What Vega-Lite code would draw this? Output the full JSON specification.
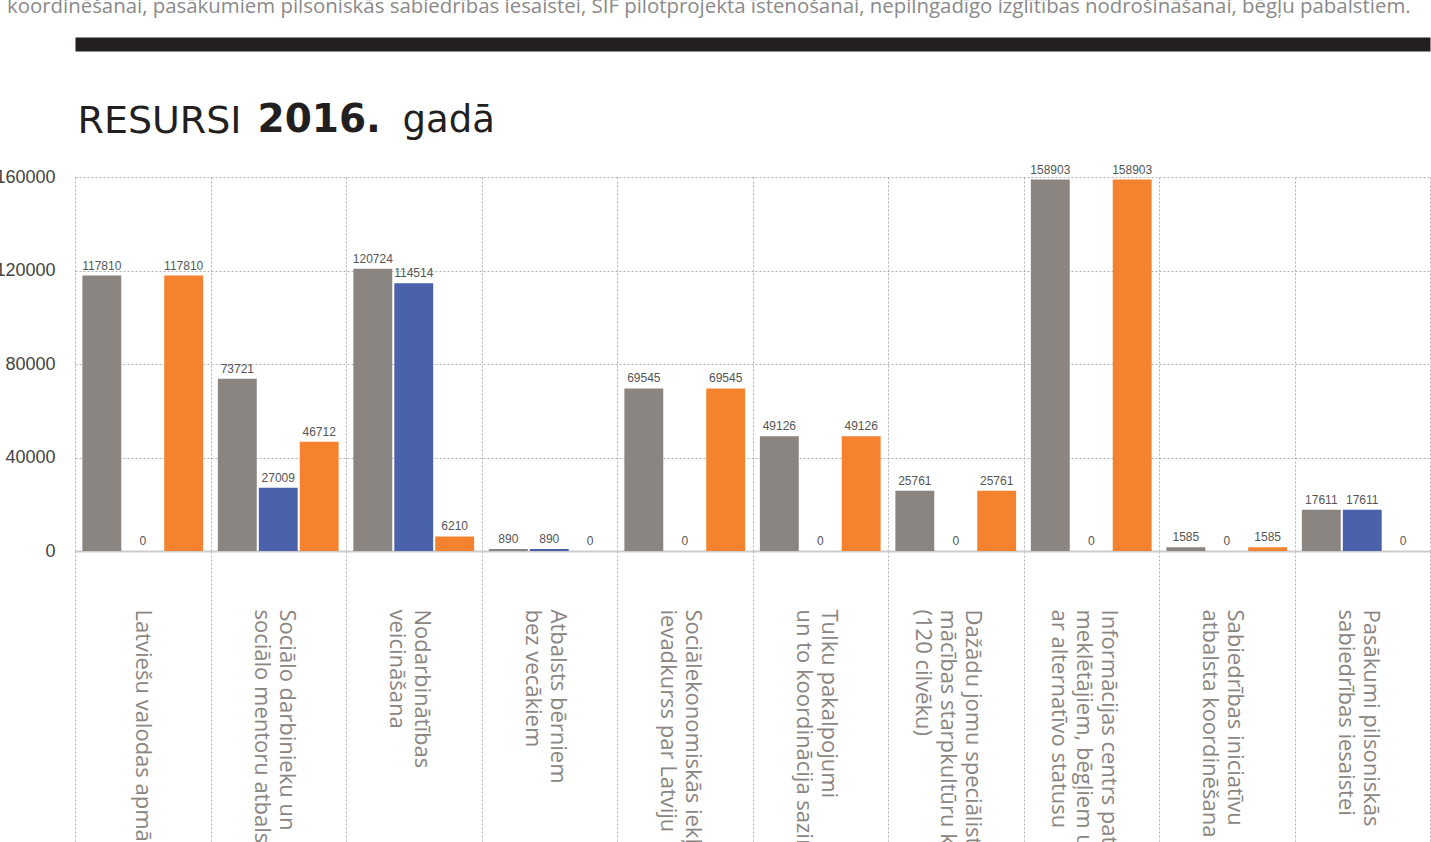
{
  "$schema": "https://vega.github.io/schema/vega-lite/v6.json",
  "autosize": {"type": "none"},
  "width": 1355,
  "height": 374,
  "padding": {"left": 75, "top": 177, "right": 1, "bottom": 291},
  "background": "white",
  "title": {
    "text": "koordinēšanai, pasākumiem pilsoniskās sabiedrības iesaistei, SIF pilotprojekta īstenošanai, nepilngadīgo izglītības nodrošināšanai, bēgļu pabalstiem.",
    "anchor": "start",
    "frame": "group",
    "font": "Open Sans",
    "fontSize": 20.4,
    "fontWeight": 400,
    "color": "#8a8a8a",
    "offset": 27,
    "dx": -68
  },
  "data": {
    "values": [
      {"pasakums": "Latviešu valodas apmācība", "avots": "Kopā", "summa": 117810},
      {"pasakums": "Latviešu valodas apmācība", "avots": "ES finansējums", "summa": 0},
      {"pasakums": "Latviešu valodas apmācība", "avots": "Valsts budžets", "summa": 117810},
      {"pasakums": "Sociālo darbinieku un|sociālo mentoru atbalsts", "avots": "Kopā", "summa": 73721},
      {"pasakums": "Sociālo darbinieku un|sociālo mentoru atbalsts", "avots": "ES finansējums", "summa": 27009},
      {"pasakums": "Sociālo darbinieku un|sociālo mentoru atbalsts", "avots": "Valsts budžets", "summa": 46712},
      {"pasakums": "Nodarbinātības|veicināšana", "avots": "Kopā", "summa": 120724},
      {"pasakums": "Nodarbinātības|veicināšana", "avots": "ES finansējums", "summa": 114514},
      {"pasakums": "Nodarbinātības|veicināšana", "avots": "Valsts budžets", "summa": 6210},
      {"pasakums": "Atbalsts bērniem|bez vecākiem", "avots": "Kopā", "summa": 890},
      {"pasakums": "Atbalsts bērniem|bez vecākiem", "avots": "ES finansējums", "summa": 890},
      {"pasakums": "Atbalsts bērniem|bez vecākiem", "avots": "Valsts budžets", "summa": 0},
      {"pasakums": "Sociālekonomiskās iekļaušanas|ievadkurss par Latviju", "avots": "Kopā", "summa": 69545},
      {"pasakums": "Sociālekonomiskās iekļaušanas|ievadkurss par Latviju", "avots": "ES finansējums", "summa": 0},
      {"pasakums": "Sociālekonomiskās iekļaušanas|ievadkurss par Latviju", "avots": "Valsts budžets", "summa": 69545},
      {"pasakums": "Tulku pakalpojumi|un to koordinācija saziņai", "avots": "Kopā", "summa": 49126},
      {"pasakums": "Tulku pakalpojumi|un to koordinācija saziņai", "avots": "ES finansējums", "summa": 0},
      {"pasakums": "Tulku pakalpojumi|un to koordinācija saziņai", "avots": "Valsts budžets", "summa": 49126},
      {"pasakums": "Dažādu jomu speciālistu|mācības starpkultūru komunikācijā|(120 cilvēku)", "avots": "Kopā", "summa": 25761},
      {"pasakums": "Dažādu jomu speciālistu|mācības starpkultūru komunikācijā|(120 cilvēku)", "avots": "ES finansējums", "summa": 0},
      {"pasakums": "Dažādu jomu speciālistu|mācības starpkultūru komunikācijā|(120 cilvēku)", "avots": "Valsts budžets", "summa": 25761},
      {"pasakums": "Informācijas centrs patvēruma|meklētājiem, bēgļiem un personām|ar alternatīvo statusu", "avots": "Kopā", "summa": 158903},
      {"pasakums": "Informācijas centrs patvēruma|meklētājiem, bēgļiem un personām|ar alternatīvo statusu", "avots": "ES finansējums", "summa": 0},
      {"pasakums": "Informācijas centrs patvēruma|meklētājiem, bēgļiem un personām|ar alternatīvo statusu", "avots": "Valsts budžets", "summa": 158903},
      {"pasakums": "Sabiedrības iniciatīvu|atbalsta koordinēšana", "avots": "Kopā", "summa": 1585},
      {"pasakums": "Sabiedrības iniciatīvu|atbalsta koordinēšana", "avots": "ES finansējums", "summa": 0},
      {"pasakums": "Sabiedrības iniciatīvu|atbalsta koordinēšana", "avots": "Valsts budžets", "summa": 1585},
      {"pasakums": "Pasākumi pilsoniskās|sabiedrības iesaistei", "avots": "Kopā", "summa": 17611},
      {"pasakums": "Pasākumi pilsoniskās|sabiedrības iesaistei", "avots": "ES finansējums", "summa": 17611},
      {"pasakums": "Pasākumi pilsoniskās|sabiedrības iesaistei", "avots": "Valsts budžets", "summa": 0}
    ]
  },
  "encoding": {
    "y": {
      "field": "summa",
      "type": "quantitative",
      "scale": {"domain": [0, 160000], "nice": false},
      "axis": {
        "title": "2016.",
        "titleAngle": 0,
        "titleAlign": "left",
        "titleBaseline": "alphabetic",
        "titleX": 182,
        "titleY": -46,
        "titleFont": "DejaVu Sans",
        "titleFontSize": 39,
        "titleFontWeight": "bold",
        "titleColor": "#231f20",
        "values": [0, 40000, 80000, 120000, 160000],
        "format": "d",
        "labelFont": "Liberation Sans",
        "labelFontSize": 18,
        "labelColor": "#444444",
        "labelPadding": 20,
        "domain": false,
        "ticks": false,
        "grid": true,
        "gridColor": "#b0b0b0",
        "gridDash": [2, 2],
        "gridWidth": 1
      }
    },
    "xOffset": {
      "field": "avots",
      "type": "nominal",
      "sort": ["Kopā", "ES finansējums", "Valsts budžets"],
      "scale": {"paddingInner": 0.05, "paddingOuter": 0.18}
    }
  },
  "layer": [
    {
      "mark": {"type": "bar"},
      "encoding": {
        "x": {
          "field": "pasakums",
          "type": "nominal",
          "sort": null,
          "scale": {"paddingInner": 0, "paddingOuter": 0},
          "axis": {
            "title": "gadā",
            "titleAngle": 0,
            "titleAnchor": "start",
            "titleAlign": "left",
            "titleBaseline": "alphabetic",
            "titleX": 327,
            "titleY": -420,
            "titleFont": "DejaVu Sans",
            "titleFontSize": 37,
            "titleFontWeight": 400,
            "titleColor": "#231f20",
            "orient": "bottom",
            "labelAngle": 90,
            "labelAlign": "left",
            "labelBaseline": "middle",
            "labelExpr": "split(datum.label, '|')",
            "labelOffset": {
              "condition": [
                {"test": "length(split(datum.value, '|')) == 2", "value": 8},
                {"test": "length(split(datum.value, '|')) == 3", "value": 17}
              ],
              "value": 0
            },
            "labelFont": "Open Sans",
            "labelFontSize": 22,
            "labelColor": "#8a8581",
            "labelLineHeight": 25,
            "labelPadding": -262,
            "labelLimit": 0,
            "labelOverlap": false,
            "labelBound": false,
            "labelFlush": false,
            "tickSize": 320,
            "tickBand": "extent",
            "tickColor": "#b0b0b0",
            "tickDash": [2, 2],
            "tickWidth": 1,
            "grid": true,
            "gridColor": "#b0b0b0",
            "gridDash": [2, 2],
            "gridWidth": 1,
            "domainColor": "#cccccc",
            "domainWidth": 2
          }
        },
        "color": {
          "field": "avots",
          "type": "nominal",
          "scale": {
            "domain": ["Kopā", "ES finansējums", "Valsts budžets"],
            "range": ["#8a8581", "#4a61ab", "#f4822f"]
          },
          "legend": null
        }
      }
    },
    {
      "mark": {
        "type": "text",
        "baseline": "bottom",
        "align": "center",
        "dy": -3,
        "font": "Liberation Sans",
        "fontSize": 12,
        "color": "#555555"
      },
      "encoding": {
        "x": {
          "field": "pasakums",
          "type": "nominal",
          "sort": null,
          "axis": {
            "orient": "top",
            "offset": 133,
            "labels": false,
            "ticks": false,
            "grid": false,
            "domainColor": "#231f20",
            "domainWidth": 14,
            "title": "RESURSI",
            "titleAnchor": "start",
            "titleAlign": "left",
            "titleBaseline": "alphabetic",
            "titleX": 2,
            "titleY": 88,
            "titleFont": "DejaVu Sans",
            "titleFontSize": 38,
            "titleFontWeight": 400,
            "titleColor": "#231f20"
          }
        },
        "text": {"field": "summa", "type": "quantitative", "format": "d"}
      }
    }
  ],
  "resolve": {"axis": {"x": "independent"}},
  "config": {"view": {"stroke": null}}
}
